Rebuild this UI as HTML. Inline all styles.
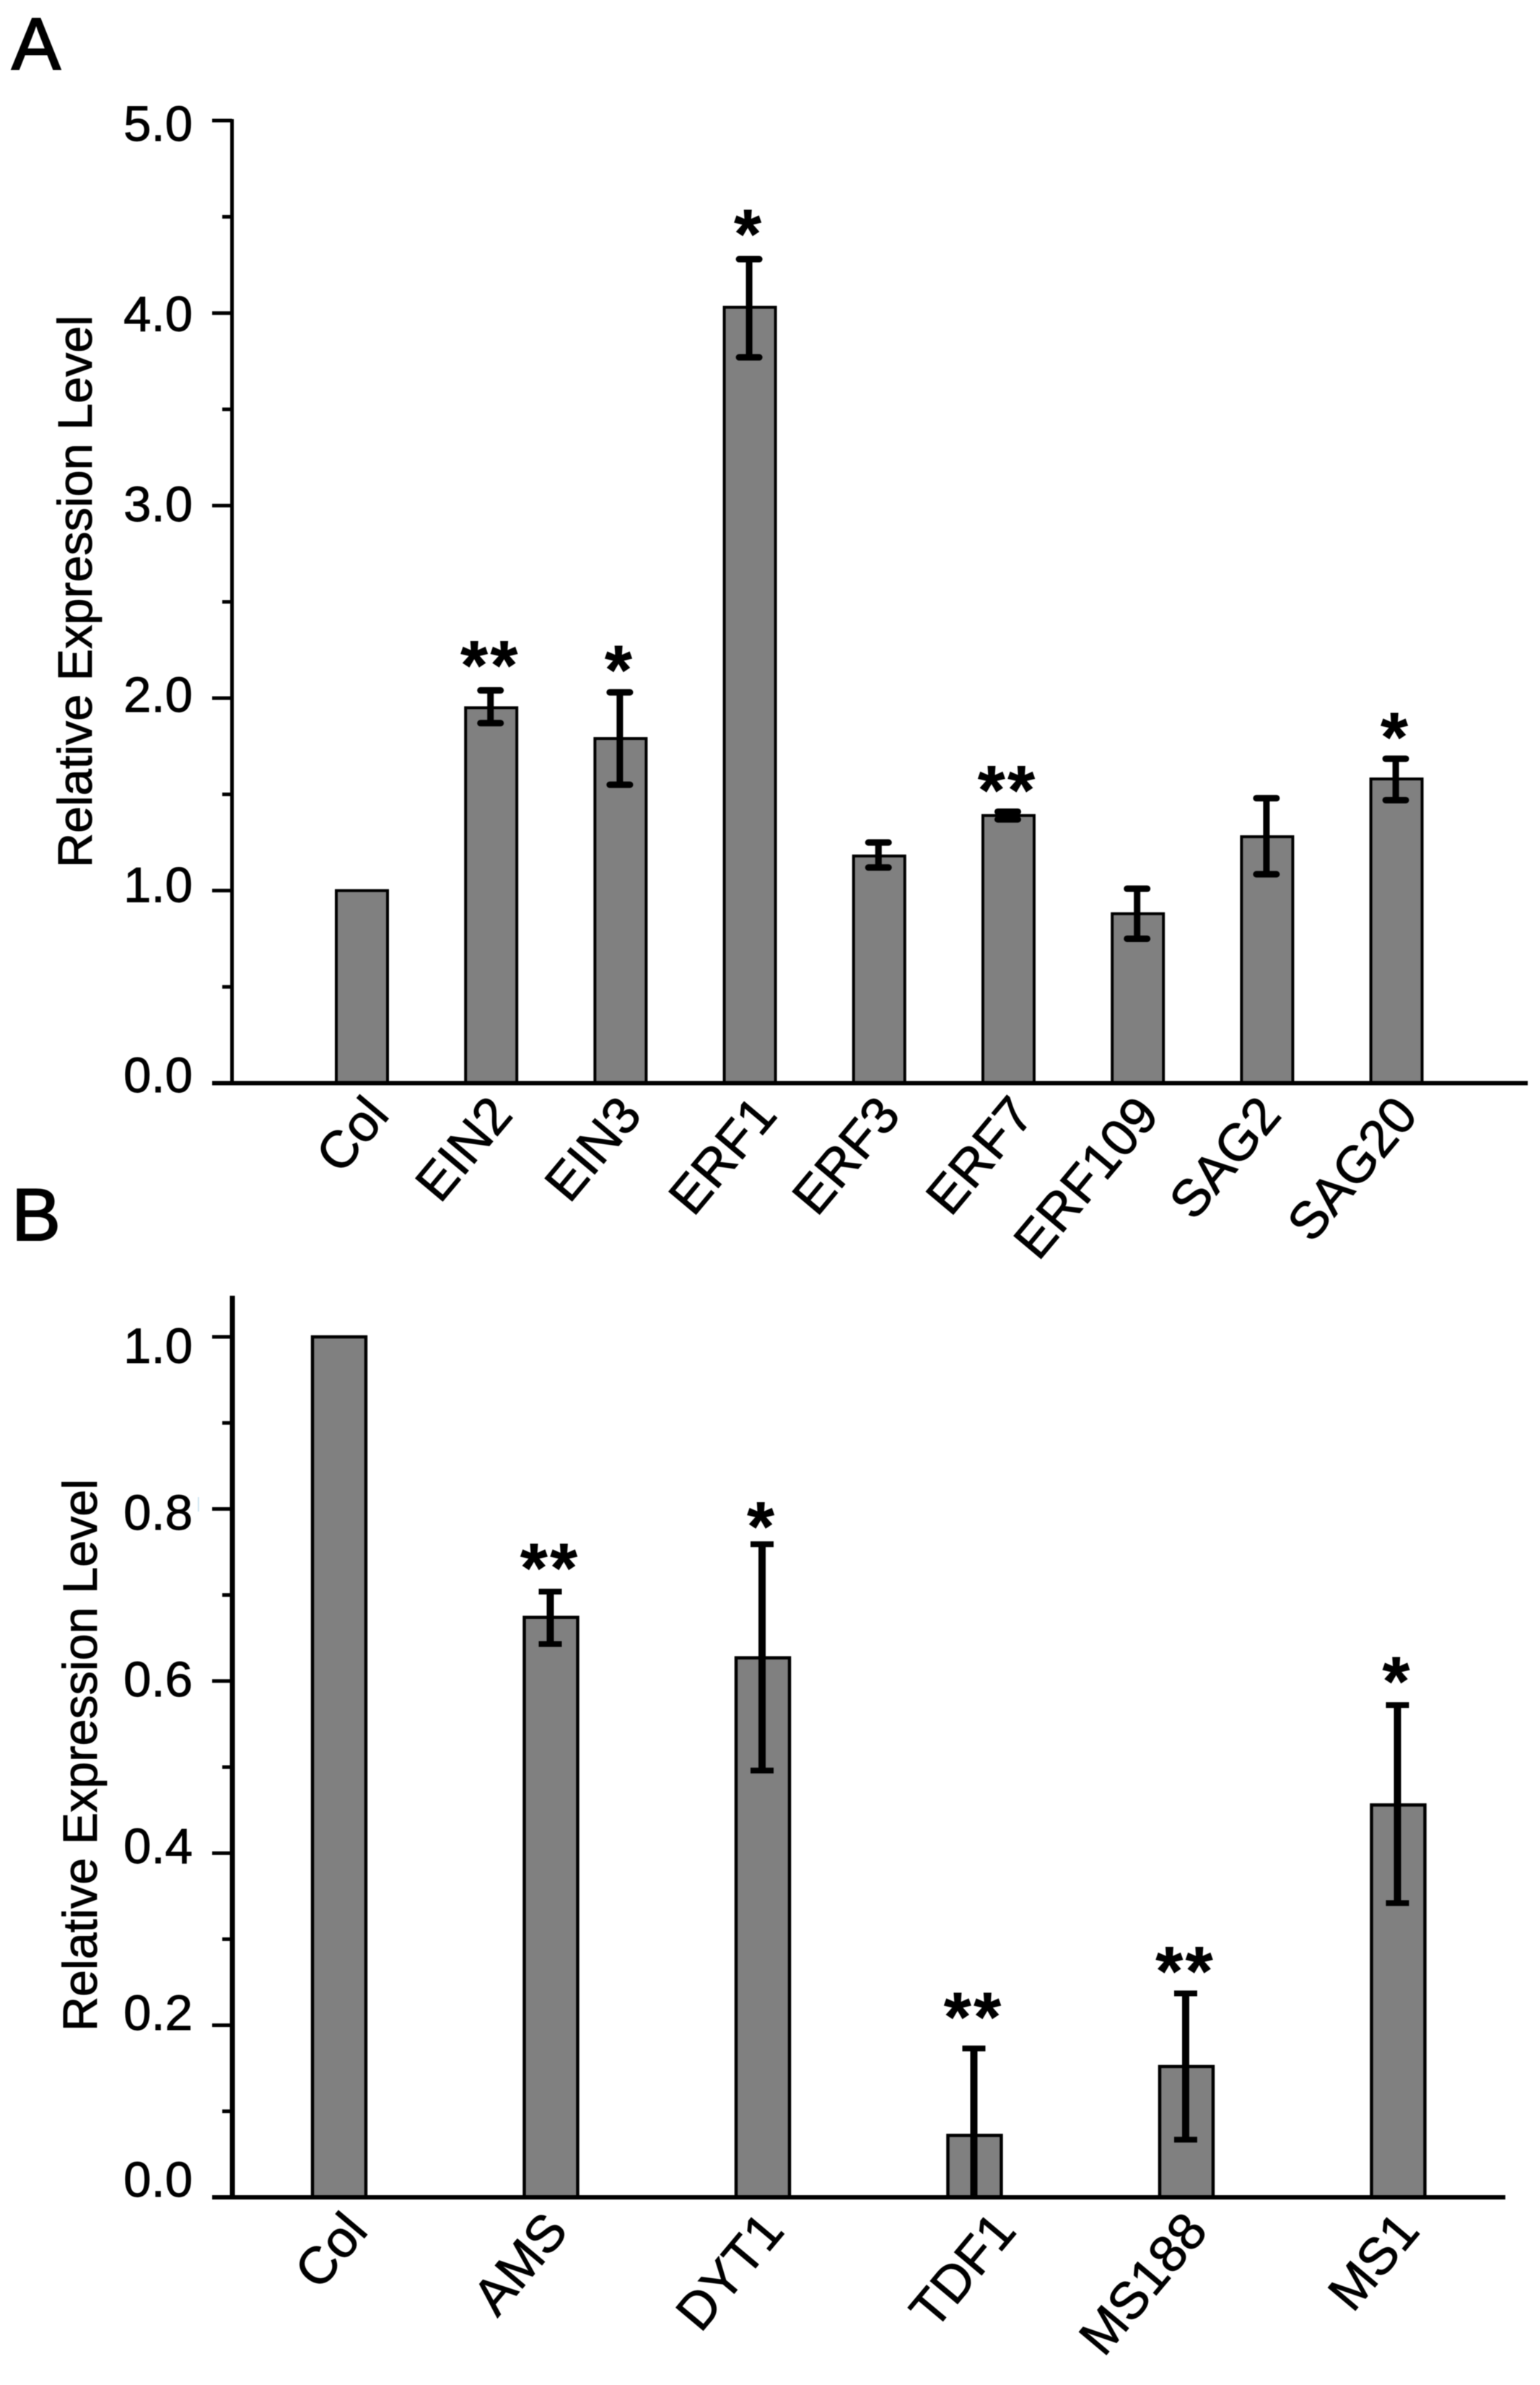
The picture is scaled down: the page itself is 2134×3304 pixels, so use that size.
<!DOCTYPE html>
<html lang="en">
<head>
<meta charset="utf-8">
<title>Relative Expression Level</title>
<style>
html,body{margin:0;padding:0;background:#fff;width:2134px;height:3304px;overflow:hidden}
svg{display:block;filter:blur(.6px)}
text{font-family:"Liberation Sans",Arial,sans-serif;fill:#000;stroke:#000;stroke-width:.9px}
</style>
</head>
<body>
<svg id="figure" xmlns="http://www.w3.org/2000/svg" width="2134" height="3304" viewBox="0 0 2134 3304">
<rect x="0" y="0" width="2134" height="3304" fill="#fff"/>
<text x="16" y="96" font-size="102" style="stroke-width:2px">A</text>
<text x="16" y="1718" font-size="102" style="stroke-width:2px">B</text>
<text transform="translate(127,1202) rotate(-90)" font-size="66.5">Relative Expression Level</text>
<text transform="translate(134,2814) rotate(-90)" font-size="66.5">Relative Expression Level</text>
<rect x="274" y="2074" width="2" height="20" fill="#cfe6f2"/>
</svg>
<script>
const categoriesA = ['Col','EIN2','EIN3','ERF1','ERF3','ERF7','ERF109','SAG2','SAG20'];
const valuesA = [1.0,1.95,1.79,4.03,1.18,1.39,0.88,1.28,1.58];
const errorHighA = [1.0,2.04,2.03,4.28,1.25,1.41,1.01,1.48,1.685];
const errorLowA = [1.0,1.87,1.55,3.77,1.12,1.37,0.75,1.085,1.47];
const significanceA = ['','**','*','*','','**','','','*'];
const tickLabelsA = ['0.0','1.0','2.0','3.0','4.0','5.0'];
const minorTicksA = [0.5,1.5,2.5,3.5,4.5];

const categoriesB = ['Col','AMS','DYT1','TDF1','MS188','MS1'];
const valuesB = [1.0,0.674,0.627,0.072,0.152,0.456];
const errorHighB = [1.0,0.704,0.759,0.173,0.237,0.572];
const errorLowB = [1.0,0.643,0.496,0,0.067,0.342];
const significanceB = ['','**','*','**','**','*'];
const tickLabelsB = ['0.0','0.2','0.4','0.6','0.8','1.0'];
const minorTicksB = [0.1,0.3,0.5,0.7,0.9];

const SVG_NS = 'http://www.w3.org/2000/svg';
const figure = document.getElementById('figure');

function shape(tag, attrs, parent) {
  const el = document.createElementNS(SVG_NS, tag);
  for (const k in attrs) el.setAttribute(k, attrs[k]);
  parent.appendChild(el);
  return el;
}

function drawPanel(p) {
  const y = v => p.y0 - v * p.yUnit;
  const x = i => p.x0 + i * p.xStep;
  const labelY = v => p.labelBase - v * p.labelUnit;

  const group = shape('g', {}, figure);
  
  

  p.categories.forEach((name, i) => {
    const bar = shape('rect', {
      x: x(i) - p.barWidth / 2, y: y(p.values[i]),
      width: p.barWidth, height: p.y0 - y(p.values[i]),
      fill: '#808080', stroke: '#000', 'stroke-width': p.barStroke
    }, group);
    
    

    const hi = p.errorHigh[i], lo = p.errorLow[i];
    if (hi !== lo) {
      const stem = shape('line', {
        x1: x(i) - 1, x2: x(i) - 1, y1: y(hi), y2: y(lo),
        stroke: '#000', 'stroke-width': p.stemWidth
      }, group);
      
      

      const capTop = shape('line', {
        x1: x(i) - 1 - p.capHalf, x2: x(i) - 1 + p.capHalf, y1: y(hi), y2: y(hi),
        stroke: '#000', 'stroke-width': p.capWidth, 'stroke-linecap': p.capEnd
      }, group);
      
      

      if (lo > 0) {
        const capLow = shape('line', {
          x1: x(i) - 1 - p.capHalf, x2: x(i) - 1 + p.capHalf, y1: y(lo), y2: y(lo),
          stroke: '#000', 'stroke-width': p.capWidth, 'stroke-linecap': p.capEnd
        }, group);
        
        
      }
    }

    if (p.significance[i]) {
      const star = shape('text', {
        x: x(i) - 1, y: y(hi) + 4 + (p.starNudge[name] || -1),
        'font-size': 96, 'font-weight': 'bold', 'text-anchor': 'middle', 'letter-spacing': 4
      }, group);
      star.textContent = p.significance[i];
      
      
    }

    const label = shape('text', {
      transform: 'translate(' + (x(i) + p.labelDx + (p.labelNudge[name] || 0)) + ',' + p.labelY + ') rotate(-50)',
      'font-size': 72, 'text-anchor': 'end'
    }, group);
    label.textContent = name;
    
    
  });

  const yAxis = shape('line', {
    x1: p.axisX, x2: p.axisX, y1: p.axisTop, y2: p.y0,
    stroke: '#000', 'stroke-width': p.yAxisWidth
  }, group);
  
  

  const xAxis = shape('line', {
    x1: 294, x2: p.axisEnd, y1: p.y0, y2: p.y0,
    stroke: '#000', 'stroke-width': p.xAxisWidth
  }, group);
  
  

  p.tickLabels.forEach(t => {
    const v = parseFloat(t);
    if (v > 0) {
      const tick = shape('line', {
        x1: 294, x2: p.axisX, y1: y(v), y2: y(v), stroke: '#000', 'stroke-width': 5
      }, group);
      
      
    }
    const tl = shape('text', {
      x: 267, y: labelY(v), 'font-size': 69, 'text-anchor': 'end'
    }, group);
    tl.textContent = t;
    
    
  });

  p.minorTicks.forEach(v => {
    const tick = shape('line', {
      x1: 308, x2: p.axisX, y1: y(v), y2: y(v), stroke: '#000', 'stroke-width': 5
    }, group);
    
    
  });
}

drawPanel({
  id: 'panel-a', categories: categoriesA, values: valuesA, errorHigh: errorHighA,
  errorLow: errorLowA, significance: significanceA, tickLabels: tickLabelsA, minorTicks: minorTicksA,
  y0: 1500.5, yUnit: 266.7, x0: 501.5, xStep: 179.2, barWidth: 71, barStroke: 4,
  stemWidth: 9, capWidth: 9, capHalf: 14, capEnd: 'round', axisX: 321.5, axisTop: 165,
  axisEnd: 2117, yAxisWidth: 5, xAxisWidth: 6, labelBase: 1513, labelUnit: 263.6,
  labelDx: 32, labelY: 1546,
  labelNudge: { ERF1: 8, ERF7: 6, SAG2: -10, Col: 8 },
  starNudge: { ERF1: -6, EIN2: -6, EIN3: -2 }
});

drawPanel({
  id: 'panel-b', categories: categoriesB, values: valuesB, errorHigh: errorHighB,
  errorLow: errorLowB, significance: significanceB, tickLabels: tickLabelsB, minorTicks: minorTicksB,
  y0: 3044, yUnit: 1192, x0: 470, xStep: 293.5, barWidth: 74, barStroke: 4.5,
  stemWidth: 10, capWidth: 8, capHalf: 16, capEnd: 'butt', axisX: 322, axisTop: 1795,
  axisEnd: 2086, yAxisWidth: 7, xAxisWidth: 6, labelBase: 3043, labelUnit: 1155,
  labelDx: 32, labelY: 3092,
  labelNudge: { TDF1: 28, Col: 10, AMS: -6 },
  starNudge: { AMS: -4, DYT1: 4, TDF1: -15, MS188: -2, MS1: -4 }
});
</script>
</body>
</html>
